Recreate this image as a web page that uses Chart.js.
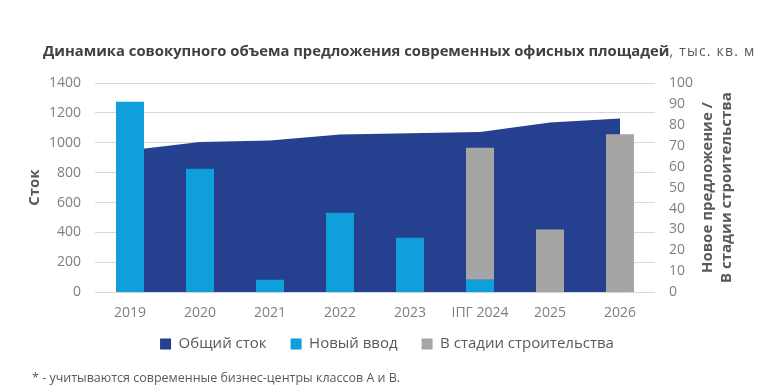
<!DOCTYPE html>
<html><head><meta charset="utf-8">
<script src="https://cdn.jsdelivr.net/npm/chart.js@4.4.1/dist/chart.umd.min.js"></script>
<style>
html,body{margin:0;padding:0;background:#fff;}
#wrap{position:relative;width:758px;height:386px;overflow:hidden;}
#title{position:absolute;left:43px;top:40px;font-family:"Open Sans",sans-serif;font-size:14.8px;color:#404040;white-space:nowrap;}
#title b{font-weight:700;}
#title span{font-weight:400;font-size:14px;letter-spacing:1.2px;color:#595959;}
#note{position:absolute;left:32px;top:369px;font-family:"Open Sans",sans-serif;font-size:12.5px;color:#595959;white-space:nowrap;}
canvas{position:absolute;left:0;top:0;}
</style></head>
<body><div id="wrap">
<canvas id="c" width="758" height="386"></canvas>
<div id="title"><b>Динамика совокупного объема предложения современных офисных площадей</b><span>, тыс. кв. м</span></div>
<div id="note">* - учитываются современные бизнес-центры классов А и В.</div>
</div>
<script>
const categories = ["2019","2020","2021","2022","2023","ІПГ 2024","2025","2026"];
const totalStock = [950,1005,1015,1055,1063,1072,1135,1162];
const newSupply = [91,59,6,38,26,6,null,null];
const underConstruction = [null,null,null,null,null,63,30,75.5];
const leftTicks = [0,200,400,600,800,1000,1200,1400];
const rightTicks = [0,10,20,30,40,50,60,70,80,90,100];
const rightTitle = ['Новое предложение /','В стадии строительства'];

const FONT = '"Open Sans", sans-serif';
const TICK = '#7f7f7f';
const LEG_PAD = 24, LEG_FONT = 15;

const rightTitlePlugin = {
  id:'rightTitle',
  afterLayout(chart){
    const lg = chart.legend;
    if (lg) {
      const target = 344 - LEG_PAD - LEG_FONT/2;
      const d = lg.top - target;
      lg.top -= d; lg.bottom -= d;
    }
  },
  afterDraw(chart){
    const ctx = chart.ctx, a = chart.chartArea;
    const cy = (a.top + a.bottom)/2;
    ctx.save();
    ctx.fillStyle = '#595959';
    ctx.font = 'bold 15px ' + FONT;
    ctx.textAlign = 'center';
    ctx.textBaseline = 'middle';
    const xs = [708, 727];
    rightTitle.forEach((t,i)=>{
      ctx.save();
      ctx.translate(xs[i], cy);
      ctx.rotate(-Math.PI/2);
      ctx.fillText(t, 0, 0);
      ctx.restore();
    });
    ctx.restore();
  }
};

new Chart(document.getElementById('c'), {
  data: {
    labels: categories,
    datasets: [
      {type:'line', label:'Общий сток', data: totalStock, yAxisID:'y',
       backgroundColor:'#24408e', borderColor:'#24408e', borderWidth:0,
       fill:'origin', pointRadius:0, tension:0, order:3},
      {type:'bar', label:'Новый ввод', data:newSupply, yAxisID:'y2', stack:'s',
       backgroundColor:'#0f9fdb', barPercentage:0.4, categoryPercentage:1, order:1},
      {type:'bar', label:'В стадии строительства', data:underConstruction, yAxisID:'y2', stack:'s',
       backgroundColor:'#a5a5a5', barPercentage:0.4, categoryPercentage:1, order:1}
    ]
  },
  plugins:[rightTitlePlugin],
  options: {
    responsive:false, animation:false,
    layout:{padding:{top:83,left:26,right:10,bottom:4}},
    plugins:{
      legend:{position:'bottom',
        labels:{boxWidth:11, boxHeight:11, padding:LEG_PAD, color:'#595959', font:{family:FONT, size:LEG_FONT},
          sort:(a,b)=>a.datasetIndex-b.datasetIndex}},
      tooltip:{enabled:false}
    },
    scales:{
      x:{stacked:true, grid:{display:false, drawTicks:false}, border:{display:false},
         ticks:{color:TICK, font:{family:FONT, size:14}, padding:12}},
      y:{position:'left', min:0, max:1400, stacked:false,
         afterBuildTicks:(s)=>{s.ticks = leftTicks.map(v=>({value:v}));},
         afterFit:(s)=>{s.width = 69;},
         grid:{color:'#d9d9d9', drawTicks:false}, border:{display:false},
         ticks:{color:TICK, font:{family:FONT, size:14}, padding:14, callback:(v)=>String(v)},
         title:{display:true, text:'Сток', color:'#595959', font:{family:FONT, size:15, weight:'bold'}, padding:{top:0,bottom:0}}},
      y2:{position:'right', min:0, max:100, stacked:true,
         afterBuildTicks:(s)=>{s.ticks = rightTicks.map(v=>({value:v}));},
         afterFit:(s)=>{s.width = 93;},
         grid:{display:false, drawTicks:false}, border:{display:false},
         ticks:{color:TICK, font:{family:FONT, size:14}, padding:14, autoSkip:false, callback:(v)=>String(v)}}
    }
  }
});
</script>
</body></html>
